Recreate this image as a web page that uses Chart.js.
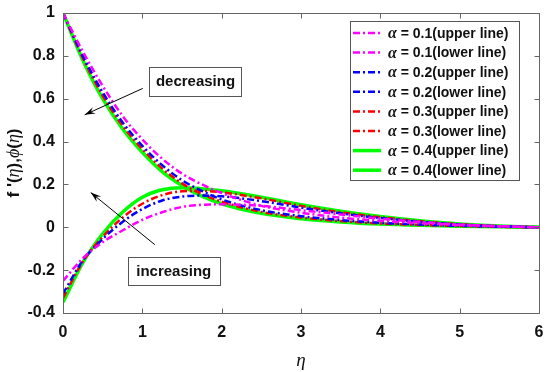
<!DOCTYPE html>
<html>
<head>
<meta charset="utf-8">
<script src="https://cdn.jsdelivr.net/npm/chart.js@4.4.0/dist/chart.umd.min.js"></script>
<style>
  html, body { margin: 0; padding: 0; background: #fff; }
  #wrap { width: 550px; height: 372px; }
</style>
</head>
<body>
<div id="wrap"><canvas id="profileChart"></canvas></div>
<script>
const eta = [0, 0.25, 0.5, 0.75, 1, 1.25, 1.5, 1.75, 2, 2.5, 3, 3.5, 4, 4.5, 5, 5.5, 6];

// f'(eta) - upper lines
const upper01 = [1, 0.82, 0.66, 0.52, 0.41, 0.32, 0.25, 0.2, 0.16, 0.1, 0.068, 0.045, 0.03, 0.019, 0.011, 0.005, 0];
const upper02 = [1, 0.80, 0.63, 0.49, 0.38, 0.29, 0.22, 0.17, 0.13, 0.08, 0.052, 0.034, 0.021, 0.013, 0.007, 0.003, 0];
const upper03 = [1, 0.79, 0.615, 0.475, 0.365, 0.275, 0.205, 0.155, 0.12, 0.072, 0.046, 0.029, 0.018, 0.011, 0.006, 0.002, 0];
const upper04 = [1, 0.78, 0.60, 0.46, 0.35, 0.26, 0.195, 0.145, 0.11, 0.065, 0.04, 0.025, 0.015, 0.009, 0.005, 0.002, 0];

// phi(eta) - lower lines
const lower01 = [-0.25, -0.145, -0.07, -0.015, 0.035, 0.07, 0.095, 0.105, 0.107, 0.1, 0.08, 0.06, 0.04, 0.025, 0.012, 0.005, 0];
const lower02 = [-0.31, -0.155, -0.055, 0.025, 0.085, 0.125, 0.143, 0.148, 0.145, 0.122, 0.092, 0.065, 0.043, 0.026, 0.013, 0.005, 0];
const lower03 = [-0.33, -0.16, -0.045, 0.045, 0.11, 0.15, 0.168, 0.17, 0.163, 0.135, 0.1, 0.07, 0.047, 0.028, 0.014, 0.005, 0];
const lower04 = [-0.35, -0.165, -0.03, 0.07, 0.14, 0.175, 0.185, 0.18, 0.17, 0.14, 0.105, 0.075, 0.05, 0.03, 0.015, 0.006, 0];

const legendLabels = [
    "0.1(upper line)", "0.1(lower line)",
    "0.2(upper line)", "0.2(lower line)",
    "0.3(upper line)", "0.3(lower line)",
    "0.4(upper line)", "0.4(lower line)"
];

const xTicks = [0, 1, 2, 3, 4, 5, 6];
const yTicks = [-0.4, -0.2, 0, 0.2, 0.4, 0.6, 0.8, 1];

const DASHDOT = [7, 3, 2, 3];

function toPoints(values) {
    return values.map((v, i) => ({ x: eta[i], y: v }));
}

function makeSet(label, values, color, dash, width) {
    return {
        label: label,
        data: toPoints(values),
        borderColor: color,
        borderWidth: width,
        borderDash: dash,
        pointRadius: 0,
        fill: false,
        cubicInterpolationMode: 'monotone'
    };
}

const datasets = [
    makeSet(legendLabels[0], upper01, '#ff00ff', DASHDOT, 2.5),
    makeSet(legendLabels[1], lower01, '#ff00ff', DASHDOT, 2.5),
    makeSet(legendLabels[2], upper02, '#0000ff', DASHDOT, 2.5),
    makeSet(legendLabels[3], lower02, '#0000ff', DASHDOT, 2.5),
    makeSet(legendLabels[4], upper03, '#ff0000', DASHDOT, 2.5),
    makeSet(legendLabels[5], lower03, '#ff0000', DASHDOT, 2.5),
    makeSet(legendLabels[6], upper04, '#00ff00', [], 3.5),
    makeSet(legendLabels[7], lower04, '#00ff00', [], 3.5)
];

const SANS = '"Liberation Sans", Arial, sans-serif';
const SERIF = '"Liberation Serif", "Times New Roman", serif';

// draw text made of pieces with different fonts
function drawRich(ctx, parts, x, y) {
    let cx = x;
    parts.forEach(p => {
        ctx.font = p.font;
        ctx.fillText(p.text, cx, y);
        cx += ctx.measureText(p.text).width;
    });
    return cx;
}
function richWidth(ctx, parts) {
    let w = 0;
    parts.forEach(p => { ctx.font = p.font; w += ctx.measureText(p.text).width; });
    return w;
}

function arrow(ctx, x1, y1, x2, y2) {
    ctx.save();
    ctx.strokeStyle = '#000';
    ctx.fillStyle = '#000';
    ctx.lineWidth = 1;
    ctx.beginPath();
    ctx.moveTo(x1, y1);
    ctx.lineTo(x2, y2);
    ctx.stroke();
    const a = Math.atan2(y2 - y1, x2 - x1);
    const len = 11, half = 0.32;
    ctx.beginPath();
    ctx.moveTo(x2, y2);
    ctx.lineTo(x2 - len * Math.cos(a - half), y2 - len * Math.sin(a - half));
    ctx.lineTo(x2 - len * 0.6 * Math.cos(a), y2 - len * 0.6 * Math.sin(a));
    ctx.lineTo(x2 - len * Math.cos(a + half), y2 - len * Math.sin(a + half));
    ctx.closePath();
    ctx.fill();
    ctx.restore();
}

function textBox(ctx, text, xs, ys, x0, x1, y0, y1) {
    const l = xs.getPixelForValue(x0), r = xs.getPixelForValue(x1);
    const t = ys.getPixelForValue(y0), b = ys.getPixelForValue(y1);
    ctx.save();
    ctx.fillStyle = '#fff';
    ctx.fillRect(l, t, r - l, b - t);
    ctx.strokeStyle = '#555';
    ctx.lineWidth = 1;
    ctx.strokeRect(Math.round(l) + 0.5, Math.round(t) + 0.5, Math.round(r - l), Math.round(b - t));
    ctx.fillStyle = '#111';
    ctx.font = 'bold 15px ' + SANS;
    ctx.textAlign = 'center';
    ctx.textBaseline = 'middle';
    ctx.fillText(text, (l + r) / 2, (t + b) / 2 + 1);
    ctx.restore();
}

const decorations = {
    id: 'decorations',
    afterDatasetsDraw(chart) {
        const ctx = chart.ctx;
        const area = chart.chartArea;
        const xs = chart.scales.x, ys = chart.scales.y;

        // axes box
        ctx.save();
        ctx.strokeStyle = '#666';
        ctx.lineWidth = 1;
        const L = Math.round(area.left) + 0.5, R = Math.round(area.right) + 0.5;
        const T = Math.round(area.top) + 0.5, B = Math.round(area.bottom) + 0.5;
        ctx.strokeRect(L, T, R - L, B - T);

        // inward ticks on all four sides
        ctx.beginPath();
        xTicks.forEach(v => {
            const px = Math.round(xs.getPixelForValue(v)) + 0.5;
            ctx.moveTo(px, B); ctx.lineTo(px, B - 5);
            ctx.moveTo(px, T); ctx.lineTo(px, T + 5);
        });
        yTicks.forEach(v => {
            const py = Math.round(ys.getPixelForValue(v)) + 0.5;
            ctx.moveTo(L, py); ctx.lineTo(L + 5, py);
            ctx.moveTo(R, py); ctx.lineTo(R - 5, py);
        });
        ctx.stroke();
        ctx.restore();

        // annotations
        arrow(ctx, xs.getPixelForValue(1.005), ys.getPixelForValue(0.648),
                   xs.getPixelForValue(0.274), ys.getPixelForValue(0.525));
        arrow(ctx, xs.getPixelForValue(1.157), ys.getPixelForValue(-0.081),
                   xs.getPixelForValue(0.35), ys.getPixelForValue(0.162));
        textBox(ctx, 'decreasing', xs, ys, 1.09, 2.25, 0.749, 0.614);
        textBox(ctx, 'increasing', xs, ys, 0.816, 1.976, -0.137, -0.267);

        // legend
        const lx0 = area.right - 189, lx1 = area.right - 20;
        const ly0 = area.top + 8, rowH = 19.6;
        ctx.save();
        ctx.fillStyle = '#fff';
        ctx.fillRect(lx0, ly0, lx1 - lx0, 159);
        ctx.strokeStyle = '#555';
        ctx.lineWidth = 1;
        ctx.strokeRect(Math.round(lx0) + 0.5, Math.round(ly0) + 0.5, Math.round(lx1 - lx0), 159);
        chart.data.datasets.forEach((ds, i) => {
            const y = ly0 + 12 + i * rowH;
            ctx.strokeStyle = ds.borderColor;
            ctx.lineWidth = ds.borderWidth;
            ctx.setLineDash(ds.borderDash);
            ctx.beginPath();
            ctx.moveTo(lx0 + 3, y);
            ctx.lineTo(lx0 + 31, y);
            ctx.stroke();
            ctx.setLineDash([]);
            ctx.fillStyle = '#111';
            ctx.textBaseline = 'middle';
            ctx.textAlign = 'left';
            drawRich(ctx, [
                { text: '\u03b1', font: 'italic bold 16px ' + SERIF },
                { text: ' = ' + ds.label, font: 'bold 14px ' + SANS }
            ], lx0 + 38, y + 1);
        });
        ctx.restore();

        // y axis title, rotated
        const yParts = [
            { text: "f '(", font: 'bold 17px ' + SANS },
            { text: '\u03b7', font: 'italic 18px ' + SERIF },
            { text: '),', font: 'bold 17px ' + SANS },
            { text: '\u03d5', font: 'italic 18px ' + SERIF },
            { text: '(', font: 'bold 17px ' + SANS },
            { text: '\u03b7', font: 'italic 18px ' + SERIF },
            { text: ')', font: 'bold 17px ' + SANS }
        ];
        ctx.save();
        ctx.translate(14, (area.top + area.bottom) / 2);
        ctx.rotate(-Math.PI / 2);
        ctx.fillStyle = '#111';
        ctx.textBaseline = 'middle';
        ctx.textAlign = 'left';
        drawRich(ctx, yParts, -richWidth(ctx, yParts) / 2, 0);
        ctx.restore();

        // x axis title
        ctx.save();
        ctx.fillStyle = '#111';
        ctx.font = 'italic 19px ' + SERIF;
        ctx.textAlign = 'center';
        ctx.textBaseline = 'middle';
        ctx.fillText('\u03b7', (area.left + area.right) / 2, area.bottom + 48);
        ctx.restore();
    }
};

const tickFont = { family: SANS, size: 16, weight: 'bold' };

new Chart(document.getElementById('profileChart'), {
    type: 'line',
    data: { datasets: datasets },
    options: {
        responsive: true,
        maintainAspectRatio: false,
        animation: false,
        layout: { padding: { left: 0, right: 11, top: 13, bottom: 0 } },
        plugins: { legend: { display: false }, tooltip: { enabled: false } },
        scales: {
            x: {
                type: 'linear',
                min: 0, max: 6,
                afterFit: s => { s.height = 59; s.paddingLeft = 0; s.paddingRight = 0; },
                afterBuildTicks: s => { s.ticks = xTicks.map(v => ({ value: v })); },
                grid: { display: false, drawTicks: false },
                border: { display: false },
                ticks: { padding: 10, color: '#111', font: tickFont, callback: v => String(v) }
            },
            y: {
                type: 'linear',
                min: -0.4, max: 1,
                afterFit: s => { s.width = 63; s.paddingTop = 0; s.paddingBottom = 0; },
                afterBuildTicks: s => { s.ticks = yTicks.map(v => ({ value: v })); },
                grid: { display: false, drawTicks: false },
                border: { display: false },
                ticks: { padding: 8, color: '#111', font: tickFont, callback: v => String(Math.round(v * 10) / 10) }
            }
        }
    },
    plugins: [decorations]
});
</script>
</body>
</html>
